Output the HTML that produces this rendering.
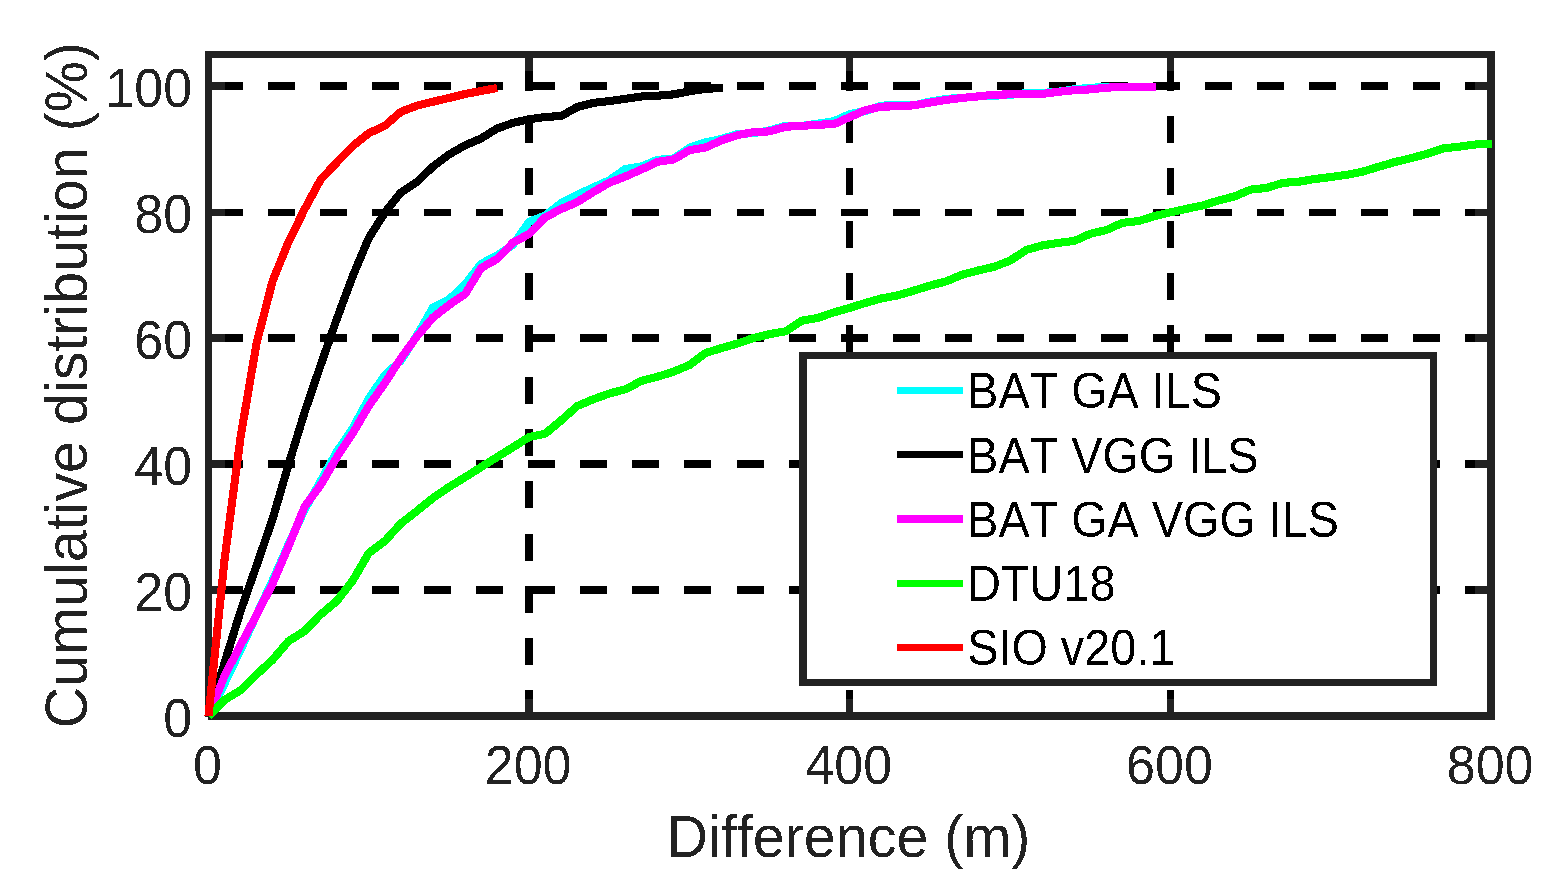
<!DOCTYPE html>
<html lang="en"><head><meta charset="utf-8"><title>Cumulative distribution of differences</title>
<style>html,body{margin:0;padding:0;background:#fff;}body{width:1558px;height:896px;overflow:hidden;}svg{display:block;}text{font-family:"Liberation Sans",sans-serif;font-kerning:none;font-variant-ligatures:none;}</style>
</head><body>
<svg width="1558" height="896" viewBox="0 0 1558 896">
<rect x="0" y="0" width="1558" height="896" fill="#ffffff"/>
<defs><filter id="crisp" x="-5%" y="-5%" width="110%" height="110%" color-interpolation-filters="sRGB"><feComponentTransfer><feFuncA type="discrete" tableValues="0 1"/></feComponentTransfer></filter></defs>
<g stroke="#000000" fill="none" shape-rendering="crispEdges">
<line x1="1492.08" y1="86" x2="208.5" y2="86" stroke-width="8" stroke-dasharray="27 25.04"/>
<line x1="1492.08" y1="212.5" x2="208.5" y2="212.5" stroke-width="7" stroke-dasharray="27 25.04"/>
<line x1="1492.08" y1="338" x2="208.5" y2="338" stroke-width="8" stroke-dasharray="27 25.04"/>
<line x1="1492.08" y1="464" x2="208.5" y2="464" stroke-width="8" stroke-dasharray="27 25.04"/>
<line x1="1492.08" y1="590" x2="208.5" y2="590" stroke-width="8" stroke-dasharray="27 25.04"/>
<line x1="529" y1="717.1" x2="529" y2="54.5" stroke-width="8" stroke-dasharray="27 25.17"/>
<line x1="849.5" y1="717.1" x2="849.5" y2="54.5" stroke-width="7" stroke-dasharray="27 25.17"/>
<line x1="1170.5" y1="717.1" x2="1170.5" y2="54.5" stroke-width="7" stroke-dasharray="27 25.17"/>
</g>
<g fill="#222222" shape-rendering="crispEdges">
<rect x="205" y="82" width="20" height="8"/>
<rect x="1475" y="82" width="20" height="8"/>
<rect x="205" y="209" width="20" height="7"/>
<rect x="1475" y="209" width="20" height="7"/>
<rect x="205" y="334" width="20" height="8"/>
<rect x="1475" y="334" width="20" height="8"/>
<rect x="205" y="460" width="20" height="8"/>
<rect x="1475" y="460" width="20" height="8"/>
<rect x="205" y="586" width="20" height="8"/>
<rect x="1475" y="586" width="20" height="8"/>
<rect x="525" y="51" width="8" height="20"/>
<rect x="525" y="699" width="8" height="21"/>
<rect x="846" y="51" width="7" height="20"/>
<rect x="846" y="699" width="7" height="21"/>
<rect x="1167" y="51" width="7" height="20"/>
<rect x="1167" y="699" width="7" height="21"/>
</g>
<g fill="#222222" shape-rendering="crispEdges">
<rect x="205" y="51" width="1290" height="7"/>
<rect x="208" y="712" width="1287" height="8"/>
<rect x="205" y="51" width="7" height="666"/>
<rect x="1487" y="51" width="8" height="669"/>
</g>
<g shape-rendering="crispEdges">
<polyline points="208.5,716.0 224.5,683.6 240.6,649.7 256.6,614.7 272.6,580.5 288.7,544.0 304.7,509.5 320.7,481.0 336.8,451.8 352.8,428.2 368.8,398.5 384.9,375.0 400.9,360.5 416.9,335.5 433.0,307.5 449.0,299.5 465.1,284.5 481.1,263.8 497.1,255.5 513.2,244.5 529.2,221.6 545.2,215.6 561.3,203.0 577.3,194.7 593.3,187.5 609.4,180.2 625.4,169.0 641.4,166.5 657.5,159.8 673.5,158.6 689.5,147.7 705.6,142.4 721.6,138.9 737.6,134.1 753.7,133.1 769.7,130.4 785.7,125.7 801.8,125.9 817.8,123.7 833.8,121.2 849.9,114.0 865.9,111.0 881.9,105.6 898.0,105.3 914.0,105.3 930.0,101.6 946.1,98.9 962.1,97.9 978.1,96.4 994.2,95.7 1010.2,94.9 1026.3,93.1 1042.3,92.9 1058.3,91.8 1074.4,89.2 1090.4,87.9 1106.4,86.7 1122.5,86.9 1138.5,86.9 1154.5,86.9 1155.9,86.9" fill="none" stroke="#00ffff" stroke-width="8.1" stroke-linejoin="round" stroke-linecap="butt"/>
<polyline points="208.5,716.0 224.5,663.0 240.6,611.0 256.6,565.5 272.6,519.0 288.7,464.0 304.7,412.0 320.7,365.0 336.8,319.0 352.8,276.0 368.8,238.0 384.9,212.5 400.9,192.5 416.9,182.0 433.0,166.5 449.0,154.5 465.1,145.3 481.1,138.5 497.1,128.5 513.2,122.8 529.2,119.2 545.2,117.0 561.3,116.0 577.3,107.0 593.3,102.9 609.4,101.1 625.4,98.8 641.4,96.5 657.5,95.7 673.5,94.4 689.5,91.3 705.6,88.8 721.6,88.0 722.6,88.0" fill="none" stroke="#000000" stroke-width="8.1" stroke-linejoin="round" stroke-linecap="butt"/>
<polyline points="208.5,716.0 224.5,676.0 240.6,645.0 256.6,615.0 272.6,583.5 288.7,546.0 304.7,506.5 320.7,485.0 336.8,457.3 352.8,433.0 368.8,406.0 384.9,383.0 400.9,358.2 416.9,336.5 433.0,317.5 449.0,305.0 465.1,294.1 481.1,268.0 497.1,259.0 513.2,242.5 529.2,234.0 545.2,217.3 561.3,209.0 577.3,202.0 593.3,192.0 609.4,182.7 625.4,176.5 641.4,169.5 657.5,161.8 673.5,159.5 689.5,150.2 705.6,147.4 721.6,140.4 737.6,135.1 753.7,132.1 769.7,131.4 785.7,126.7 801.8,125.9 817.8,124.7 833.8,124.2 849.9,117.0 865.9,110.0 881.9,106.6 898.0,106.3 914.0,105.3 930.0,102.6 946.1,99.9 962.1,97.9 978.1,96.4 994.2,94.7 1010.2,94.4 1026.3,94.1 1042.3,93.9 1058.3,91.8 1074.4,90.2 1090.4,89.4 1106.4,87.7 1122.5,86.9 1138.5,86.9 1154.5,86.9 1155.9,86.9" fill="none" stroke="#ff00ff" stroke-width="8.1" stroke-linejoin="round" stroke-linecap="butt"/>
<polyline points="208.5,716.0 224.5,700.0 240.6,690.3 256.6,674.5 272.6,659.8 288.7,641.0 304.7,631.0 320.7,614.5 336.8,601.0 352.8,580.5 368.8,553.0 384.9,541.0 400.9,523.5 416.9,511.0 433.0,498.0 449.0,487.0 465.1,477.2 481.1,467.1 497.1,457.1 513.2,447.1 529.2,437.0 545.2,433.7 561.3,420.3 577.3,406.0 593.3,399.3 609.4,393.5 625.4,389.3 641.4,380.9 657.5,376.7 673.5,371.7 689.5,365.0 705.6,353.0 721.6,348.0 737.6,343.5 753.7,338.0 769.7,334.1 785.7,331.3 801.8,320.7 817.8,317.9 833.8,312.4 849.9,307.8 865.9,302.8 881.9,298.3 898.0,295.3 914.0,290.6 930.0,285.6 946.1,281.4 962.1,274.7 978.1,270.5 994.2,266.8 1010.2,260.5 1026.3,249.9 1042.3,245.4 1058.3,242.9 1074.4,240.9 1090.4,233.7 1106.4,230.0 1122.5,222.8 1138.5,221.1 1154.5,216.1 1170.6,212.3 1186.6,208.8 1202.6,205.5 1218.7,200.5 1234.7,196.3 1250.7,189.6 1266.8,187.9 1282.8,182.9 1298.8,181.7 1314.9,179.0 1330.9,177.0 1346.9,174.8 1363.0,171.6 1379.0,166.6 1395.0,162.0 1411.1,158.2 1427.1,153.8 1443.1,148.4 1459.2,146.7 1475.2,144.5 1491.2,143.7 1491.8,143.7" fill="none" stroke="#00ff00" stroke-width="8.1" stroke-linejoin="round" stroke-linecap="butt"/>
<polyline points="208.5,716.0 224.5,560.0 240.6,437.0 256.6,343.0 272.6,281.0 288.7,241.5 304.7,209.0 320.7,179.5 336.8,162.5 352.8,146.0 368.8,133.2 384.9,125.7 400.9,111.8 416.9,105.7 433.0,101.7 449.0,98.0 465.1,94.0 481.1,91.0 497.1,88.0" fill="none" stroke="#ff0000" stroke-width="8.1" stroke-linejoin="round" stroke-linecap="butt"/>
</g>

<g shape-rendering="crispEdges">
<rect x="799" y="352" width="638" height="334" fill="#222222"/>
<rect x="807" y="359" width="623" height="320" fill="#ffffff"/>
<rect x="897" y="387" width="66" height="7" fill="#00ffff"/>
<rect x="897" y="451" width="66" height="7" fill="#000000"/>
<rect x="897" y="515" width="66" height="8" fill="#ff00ff"/>
<rect x="897" y="580" width="66" height="7" fill="#00ff00"/>
<rect x="897" y="644" width="66" height="7" fill="#ff0000"/>
</g>
<g font-size="46.8" fill="#000000" filter="url(#crisp)">
<text transform="translate(967.2 408) scale(1 1.055)" text-anchor="start">BAT GA ILS</text>
<text transform="translate(967.2 472.5) scale(1 1.055)" text-anchor="start">BAT VGG ILS</text>
<text transform="translate(967.2 537) scale(1 1.055)" text-anchor="start">BAT GA VGG ILS</text>
<text transform="translate(967.2 601) scale(1 1.055)" text-anchor="start">DTU18</text>
<text transform="translate(967.2 665) scale(1 1.055)" text-anchor="start">SIO v20.1</text>
</g>
<g font-size="52" fill="#222222" filter="url(#crisp)">
<text transform="translate(192.2 736.5) scale(1 1.05)" text-anchor="end">0</text>
<text transform="translate(192.2 610.5) scale(1 1.05)" text-anchor="end">20</text>
<text transform="translate(192.2 484.5) scale(1 1.05)" text-anchor="end">40</text>
<text transform="translate(192.2 358.5) scale(1 1.05)" text-anchor="end">60</text>
<text transform="translate(192.2 232.5) scale(1 1.05)" text-anchor="end">80</text>
<text transform="translate(192.2 106.5) scale(1 1.05)" text-anchor="end">100</text>
<text transform="translate(207.4 783.6) scale(1 1.05)" text-anchor="middle">0</text>
<text transform="translate(528.087 783.6) scale(1 1.05)" text-anchor="middle">200</text>
<text transform="translate(848.775 783.6) scale(1 1.05)" text-anchor="middle">400</text>
<text transform="translate(1169.46 783.6) scale(1 1.05)" text-anchor="middle">600</text>
<text transform="translate(1490.15 783.6) scale(1 1.05)" text-anchor="middle">800</text>
</g>
<g font-size="57.3" fill="#222222" filter="url(#crisp)">
<text transform="translate(848.5 856.8) scale(1.0025 1.045)" text-anchor="middle">Difference (m)</text>
<text transform="translate(87 385.2) rotate(-90) scale(1.0025 1.045)" text-anchor="middle">Cumulative distribution (%)</text>
</g>
</svg>
</body></html>
